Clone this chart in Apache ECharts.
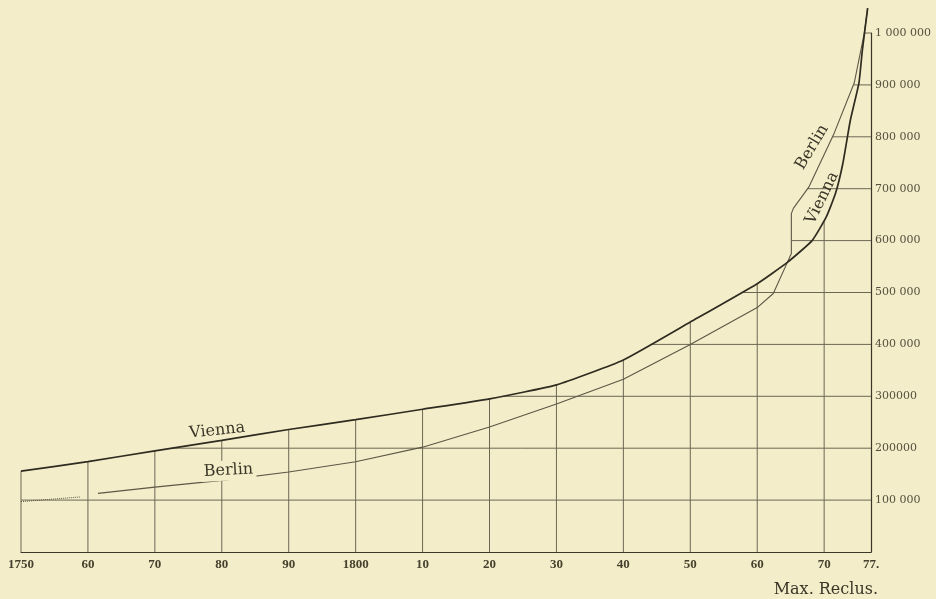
<!DOCTYPE html>
<html>
<head>
<meta charset="utf-8">
<title>Vienna - Berlin</title>
<script src="https://cdn.jsdelivr.net/npm/echarts@6/dist/echarts.min.js"></script>
<style>
html, body { margin: 0; padding: 0; background: #f4edc9; }
#chart { width: 936px; height: 599px; }
</style>
</head>
<body>
<div id="chart"></div>
<script>
// population (years, inhabitants)
var viennaYears = [1750, 1760, 1770, 1780, 1790, 1800, 1810, 1820, 1830, 1840, 1850, 1860, 1864.5, 1868.2, 1870.3, 1871.7, 1872.8, 1873.9, 1875.2, 1875.7, 1876.5];
var viennaPop = [156000, 174000, 195000, 215000, 236000, 255000, 275000, 295000, 322000, 370000, 443000, 517000, 558000, 600000, 645000, 691000, 749000, 831000, 904000, 966000, 1048000];

var berlinYears = [1761.5, 1770, 1780, 1790, 1800, 1810, 1820, 1830, 1840, 1850, 1860, 1862.4, 1864.5, 1865.1, 1865.1, 1865.4, 1867.7, 1871.5, 1874.5, 1876.0, 1876.5];
var berlinPop = [113000, 125000, 138000, 154000, 174000, 202000, 241000, 285000, 333000, 400000, 471000, 498000, 558000, 575000, 652000, 662000, 703000, 807000, 904000, 1000000, 1048000];

// dotted start of the Berlin line
var berlinEarlyYears = [1750, 1758.8];
var berlinEarlyPop = [97000, 106000];

var xTickYears = [1750, 1760, 1770, 1780, 1790, 1800, 1810, 1820, 1830, 1840, 1850, 1860, 1870, 1877];
var xTickLabels = ['1750', '60', '70', '80', '90', '1800', '10', '20', '30', '40', '50', '60', '70', '77.'];

var yTickValues = [100000, 200000, 300000, 400000, 500000, 600000, 700000, 800000, 900000, 1000000];
var yTickLabels = ['100 000', '200000', '300000', '400 000', '500 000', '600 000', '700 000', '800 000', '900 000', '1 000 000'];

var gridYears = [1750, 1760, 1770, 1780, 1790, 1800, 1810, 1820, 1830, 1840, 1850, 1860, 1870];

function pairs(xs, ys) {
    return xs.map(function (x, i) { return [x, ys[i]]; });
}

// linear reading of a curve at year x (max where the curve is vertical)
function valueAt(xs, ys, x) {
    var best = null;
    for (var i = 0; i < xs.length - 1; i++) {
        if (x >= xs[i] && x <= xs[i + 1]) {
            var v;
            if (xs[i + 1] === xs[i]) v = Math.max(ys[i], ys[i + 1]);
            else v = ys[i] + (ys[i + 1] - ys[i]) * (x - xs[i]) / (xs[i + 1] - xs[i]);
            if (best === null || v > best) best = v;
        }
    }
    return best;
}

function envelopeAt(x) {
    var a = valueAt(viennaYears, viennaPop, x);
    var b = valueAt(berlinYears, berlinPop, x);
    return Math.max(a === null ? -1 : a, b === null ? -1 : b);
}

// grid only drawn below the curves, as on the plate
var gridSegs = [];
gridYears.forEach(function (yr) {
    gridSegs.push([yr, 0, yr, valueAt(viennaYears, viennaPop, yr)]);
});
yTickValues.forEach(function (v) {
    var start = 1877;
    for (var yr = 1750; yr <= 1877; yr += 0.02) {
        if (envelopeAt(yr) >= v) { start = yr; break; }
    }
    gridSegs.push([start, v, 1877, v]);
});

var ink = '#3a3628';
var myChart = echarts.init(document.getElementById('chart'));

var option = {
    backgroundColor: '#f4edc9',
    animation: false,
    grid: { left: 21, right: 65, top: 33, bottom: 47 },
    xAxis: {
        type: 'value',
        min: 1750,
        max: 1877,
        interval: 10,
        axisLine: { show: true, onZero: false, lineStyle: { color: ink, width: 1.2 } },
        axisTick: { show: false },
        splitLine: { show: false },
        axisLabel: {
            margin: 6,
            color: '#46412f',
            fontFamily: 'Liberation Serif',
            fontWeight: 'bold',
            fontSize: 13,
            formatter: function (v) {
                var i = xTickYears.indexOf(Math.round(v));
                return i < 0 ? '' : xTickLabels[i];
            }
        }
    },
    yAxis: {
        type: 'value',
        position: 'right',
        min: 0,
        max: 1000000,
        interval: 100000,
        axisLine: { show: true, lineStyle: { color: ink, width: 1.2 } },
        axisTick: { show: false },
        splitLine: { show: false },
        axisLabel: {
            margin: 4,
            color: '#55503f',
            fontFamily: 'DejaVu Serif',
            fontSize: 11,
            formatter: function (v) {
                var i = yTickValues.indexOf(v);
                return i < 0 ? '' : yTickLabels[i];
            }
        }
    },
    graphic: [{
        type: 'text',
        right: 58,
        bottom: 1,
        style: {
            text: 'Max. Reclus.',
            fill: ink,
            font: '16px "DejaVu Serif"'
        }
    }],
    series: [{
        type: 'custom',
        name: 'grid',
        clip: false,
        z: 1,
        encode: { x: [0, 2], y: [1, 3] },
        renderItem: function (params, api) {
            var p1 = api.coord([api.value(0), api.value(1)]);
            var p2 = api.coord([api.value(2), api.value(3)]);
            return {
                type: 'line',
                shape: { x1: p1[0], y1: p1[1], x2: p2[0], y2: p2[1] },
                style: { stroke: '#6c6755', lineWidth: 1 }
            };
        },
        data: gridSegs
    }, {
        type: 'line',
        name: 'Vienna',
        z: 3,
        clip: false,
        smooth: 0.15,
        showSymbol: false,
        lineStyle: { color: '#2e2b20', width: 1.7 },
        data: pairs(viennaYears, viennaPop),
        markPoint: {
            symbol: 'rect',
            symbolSize: 1,
            itemStyle: { color: 'rgba(0,0,0,0)' },
            label: {
                show: true,
                position: 'inside',
                formatter: '{b}',
                color: ink,
                fontFamily: 'DejaVu Serif',
                fontSize: 16
            },
            data: [
                { name: 'Vienna', coord: [1779.3, 234000], label: { rotate: 6 } },
                { name: 'Vienna', coord: [1869.7, 682000], label: { rotate: 64 } }
            ]
        }
    }, {
        type: 'line',
        name: 'Berlin',
        z: 2,
        clip: false,
        showSymbol: false,
        lineStyle: { color: '#5c5746', width: 1.1 },
        data: pairs(berlinYears, berlinPop),
        markPoint: {
            symbol: 'rect',
            symbolSize: 1,
            itemStyle: { color: 'rgba(0,0,0,0)' },
            label: {
                show: true,
                position: 'inside',
                formatter: '{b}',
                color: ink,
                fontFamily: 'DejaVu Serif',
                fontSize: 16
            },
            data: [
                { name: 'Berlin', coord: [1781, 157000], label: { rotate: 3, backgroundColor: '#f4edc9', padding: [0, 3, 4, 3] } },
                { name: 'Berlin', coord: [1868.2, 780000], label: { rotate: 59 } }
            ]
        }
    }, {
        type: 'line',
        name: 'Berlin early',
        z: 2,
        showSymbol: false,
        lineStyle: { color: '#5c5746', width: 1, type: 'dotted' },
        data: pairs(berlinEarlyYears, berlinEarlyPop)
    }]
};

myChart.setOption(option);
window.addEventListener('resize', function () {
    myChart.resize();
});
</script>
</body>
</html>
